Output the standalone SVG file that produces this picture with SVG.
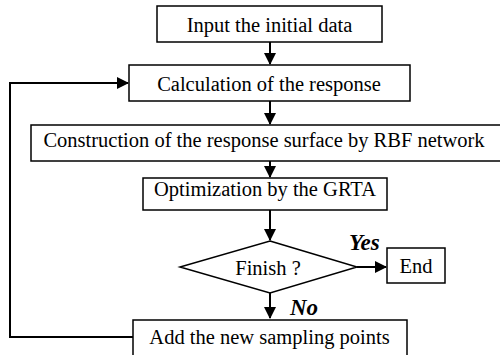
<svg xmlns="http://www.w3.org/2000/svg" width="500" height="355" viewBox="0 0 500 355">
<style>
.box{fill:#fff;stroke:#000;stroke-width:1.5}
.t{font-family:"Liberation Serif",serif;font-size:20.5px;fill:#000;text-anchor:middle}
.lbl{font-family:"Liberation Serif",serif;font-size:23px;font-weight:bold;font-style:italic;fill:#000}
.c{fill:none;stroke:#000;stroke-width:2}
</style>
<defs>
<marker id="ah" markerWidth="12" markerHeight="12" refX="11" refY="6" orient="auto" markerUnits="userSpaceOnUse">
<path d="M0,0 L12,6 L0,12 Z" fill="#000"/>
</marker>
</defs>
<rect width="500" height="355" fill="#fff"/>
<g id="connectors">
<line class="c" x1="270" y1="42" x2="270" y2="64" marker-end="url(#ah)"/>
<line class="c" x1="270" y1="101" x2="270" y2="124" marker-end="url(#ah)"/>
<line class="c" x1="270" y1="161" x2="270" y2="177" marker-end="url(#ah)"/>
<line class="c" x1="270" y1="210" x2="270" y2="240" marker-end="url(#ah)"/>
<line class="c" x1="357" y1="267" x2="386" y2="267" marker-end="url(#ah)"/>
<line class="c" x1="270" y1="293" x2="270" y2="318" marker-end="url(#ah)"/>
<polyline class="c" points="133,337 10,337 10,83 128,83" marker-end="url(#ah)"/>
</g>
<g id="n1"><rect class="box" x="157" y="6" width="225" height="36"/><text class="t" x="269.5" y="32">Input the initial data</text></g>
<g id="n2"><rect class="box" x="129" y="65" width="281" height="36"/><text class="t" x="269" y="91">Calculation of the response</text></g>
<g id="n3"><rect class="box" x="31" y="125" width="471" height="36"/><text class="t" x="264" y="147">Construction of the response surface by RBF network</text></g>
<g id="n4"><rect class="box" x="143" y="178" width="244" height="32"/><text class="t" x="265" y="196">Optimization by the GRTA</text></g>
<g id="n5"><polygon class="box" points="270,241 357,267 270,293 180,267"/><text class="t" x="268" y="275">Finish ?</text></g>
<g id="n6"><rect class="box" x="387" y="248" width="58" height="35"/><text class="t" x="416" y="273">End</text></g>
<g id="n7"><rect class="box" x="133" y="320" width="274" height="40"/><text class="t" x="269.5" y="344">Add the new sampling points</text></g>
<text class="lbl" x="349" y="250">Yes</text>
<text class="lbl" x="290" y="315">No</text>
</svg>
